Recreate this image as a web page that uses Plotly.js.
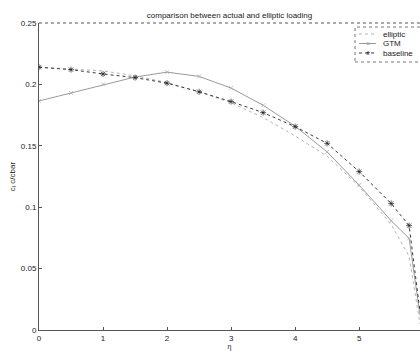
<!DOCTYPE html>
<html>
<head>
<meta charset="utf-8">
<script src="https://cdn.plot.ly/plotly-3.0.1.min.js"></script>
<style>html,body{margin:0;padding:0;background:#fff;}#chart{width:420px;height:351px;}</style>
</head>
<body>
<div id="chart"></div>
<script>
// Data
const ellipticX = [0, 0.5, 1, 1.5, 2, 2.5, 3, 3.5, 4, 4.5, 5, 5.5, 5.78, 5.95];
const ellipticY = [0.214, 0.2125, 0.211, 0.207, 0.2015, 0.194, 0.185, 0.173, 0.158, 0.1415, 0.117, 0.086, 0.060, 0.005];

const gtmX = [0, 0.5, 1, 1.5, 2, 2.5, 3, 3.5, 4, 4.5, 5, 5.5, 5.78, 5.95];
const gtmY = [0.1865, 0.193, 0.200, 0.206, 0.210, 0.2065, 0.197, 0.183, 0.166, 0.145, 0.118, 0.089, 0.0746, 0.012];

const baselineX = [0, 0.5, 1, 1.5, 2, 2.5, 3, 3.5, 4, 4.5, 5, 5.5, 5.78, 5.95];
const baselineY = [0.214, 0.212, 0.2085, 0.2055, 0.201, 0.194, 0.186, 0.177, 0.1656, 0.152, 0.129, 0.103, 0.085, 0.015];

const legendNames = ['elliptic', 'GTM', 'baseline'];

const xTicks = [0, 1, 2, 3, 4, 5];
const yTicks = [0, 0.05, 0.1, 0.15, 0.2, 0.25];
const yTickText = ['0', '0.05', '0.1', '0.15', '0.2', '0.25'];

const FAM = 'Liberation Sans, Arial, sans-serif';
const TXT = '#1a1a1a';

const lineStyles = [
  {color: '#b5b5b5', width: 1, dash: 'dot'},
  {color: '#9a9a9a', width: 1},
  {color: '#3a3a3a', width: 1, dash: 'dot'}
];

const endless = n => Array.from({length: n}, (_, i) => i === n - 1 ? 0 : 1);

const traces = [
  {x: ellipticX, y: ellipticY, name: legendNames[0], mode: 'lines', line: lineStyles[0]},
  {x: gtmX, y: gtmY, name: legendNames[1], mode: 'lines+markers', line: lineStyles[1],
   marker: {symbol: 'x-thin-open', size: endless(gtmX.length).map(v => v * 4), color: '#aaa', line: {color: '#aaa', width: 1}}},
  {x: baselineX, y: baselineY, name: legendNames[2], mode: 'lines+markers', line: lineStyles[2],
   marker: {symbol: 'asterisk-open', size: endless(baselineX.length).map(v => v * 5), color: '#222', line: {color: '#222', width: 1}}}
];

// Manual MATLAB-style legend in paper coordinates
const pxX = px => (px - 39) / 381;
const pxY = py => (330 - py) / 307;
const legendRows = [34, 43.5, 53];
const shapes = [
  {type: 'line', xref: 'paper', yref: 'paper', x0: 0, x1: 1, y0: 1, y1: 1, line: {color: '#555', width: 1, dash: 'dot'}},
  {type: 'rect', xref: 'paper', yref: 'paper', x0: pxX(355), x1: pxX(430), y0: pxY(62), y1: pxY(27),
   line: {color: '#777', width: 1, dash: 'dot'}, fillcolor: '#fff', layer: 'above'}
];
const annotations = [];
legendNames.forEach((nm, i) => {
  shapes.push({type: 'line', xref: 'paper', yref: 'paper', x0: pxX(359), x1: pxX(376),
    y0: pxY(legendRows[i]), y1: pxY(legendRows[i]), line: lineStyles[i], layer: 'above'});
  annotations.push({xref: 'paper', yref: 'paper', x: pxX(381), y: pxY(legendRows[i]), text: nm,
    showarrow: false, xanchor: 'left', yanchor: 'middle', font: {family: FAM, size: 8, color: TXT}});
});
annotations.push({xref: 'paper', yref: 'paper', x: pxX(367.5), y: pxY(legendRows[2] + 2), text: '*',
  showarrow: false, xanchor: 'center', yanchor: 'middle', font: {family: FAM, size: 10, color: '#222'}});
annotations.push({xref: 'paper', yref: 'paper', x: pxX(367.5), y: pxY(legendRows[1]), text: '×',
  showarrow: false, xanchor: 'center', yanchor: 'middle', font: {family: FAM, size: 7, color: '#999'}});

const layout = {
  width: 420, height: 351,
  margin: {l: 39, r: 0, t: 23, b: 21},
  paper_bgcolor: '#fff', plot_bgcolor: '#fff',
  font: {family: FAM, size: 8, color: TXT},
  showlegend: false,
  title: {text: 'comparison between actual and elliptic loading', font: {family: FAM, size: 8, color: TXT},
          x: 0.5, xref: 'paper', y: 1, yref: 'paper', yanchor: 'bottom', pad: {b: 5}},
  xaxis: {range: [0, 5.95], tickvals: xTicks, ticks: 'inside', ticklen: 3, tickcolor: '#555',
          showgrid: false, zeroline: false, showline: true, linecolor: '#555', linewidth: 1, color: TXT,
          tickfont: {family: FAM, size: 8, color: TXT},
          title: {text: 'η', font: {family: FAM, size: 7, color: TXT}, standoff: 2}},
  yaxis: {range: [0, 0.25], tickvals: yTicks, ticktext: yTickText, ticks: 'inside', ticklen: 3, tickcolor: '#555',
          showgrid: false, zeroline: false, showline: true, linecolor: '#555', linewidth: 1, color: TXT,
          tickfont: {family: FAM, size: 8, color: TXT},
          title: {text: 'c<sub>l</sub> c/cbar', font: {family: FAM, size: 8, color: TXT}, standoff: 4}},
  shapes: shapes,
  annotations: annotations
};

Plotly.newPlot('chart', traces, layout, {displayModeBar: false, staticPlot: true});
</script>
</body>
</html>
